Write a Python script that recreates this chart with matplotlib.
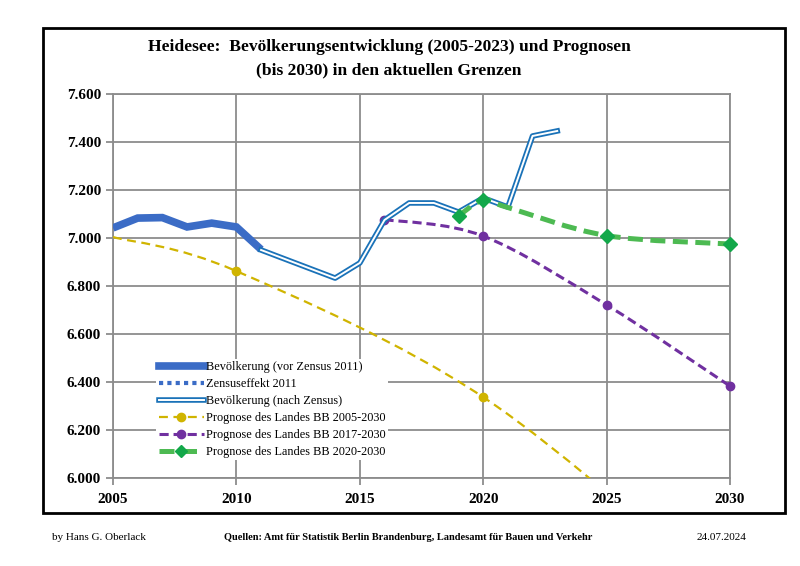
import matplotlib
matplotlib.use("Agg")
import matplotlib.pyplot as plt
import numpy as np
from matplotlib.path import Path
from matplotlib.patches import PathPatch, Rectangle
from matplotlib.lines import Line2D
from matplotlib.legend_handler import HandlerTuple

plt.rcParams['font.family'] = ['Liberation Serif', 'DejaVu Serif']

# population before census 2011
years_pre = [2005, 2006, 2007, 2008, 2009, 2010, 2011]
pop_pre = [7042, 7083, 7085, 7046, 7062, 7046, 6952]

# population after census
years_post = [2011, 2012, 2013, 2014, 2015, 2016, 2017, 2018, 2019, 2020, 2021, 2022, 2023]
pop_post = [6950, 6911, 6872, 6833, 6896, 7075, 7146, 7146, 7108, 7167, 7129, 7425, 7446]

# forecasts
years_p05 = [2005, 2010, 2020, 2030]
pop_p05 = [7004, 6862, 6337, 5500]
years_p17 = [2016, 2020, 2025, 2030]
pop_p17 = [7077, 7008, 6721, 6383]
years_p20 = [2019, 2020, 2021, 2025, 2030]
pop_p20 = [7092, 7158, 7127, 7010, 6975]

x_ticks = [2005, 2010, 2015, 2020, 2025, 2030]
y_ticks = [6000, 6200, 6400, 6600, 6800, 7000, 7200, 7400, 7600]
y_labels = ['6.000', '6.200', '6.400', '6.600', '6.800', '7.000', '7.200', '7.400', '7.600']


def smooth_path(xs, ys):
    # excel-like smoothed line (catmull-rom as bezier)
    pts = np.column_stack((xs, ys)).astype(float)
    verts = [pts[0]]
    codes = [Path.MOVETO]
    n = len(pts)
    for i in range(n - 1):
        p0 = pts[i - 1] if i > 0 else pts[i]
        p1 = pts[i]
        p2 = pts[i + 1]
        p3 = pts[i + 2] if i + 2 < n else pts[i + 1]
        c1 = p1 + (p2 - p0) / 6.0
        c2 = p2 - (p3 - p1) / 6.0
        verts += [c1, c2, p2]
        codes += [Path.CURVE4] * 3
    return Path(verts, codes)


fig = plt.figure(figsize=(8, 5.66), dpi=100)
fig.patches.append(Rectangle((43 / 800, 1 - 513 / 566), 742 / 800, 485 / 566,
                             transform=fig.transFigure, fill=False,
                             edgecolor='black', linewidth=2, zorder=0))

ax = fig.add_axes([113 / 800, 1 - 478 / 566, 617 / 800, 384 / 566])
ax.set_xlim(2005, 2030)
ax.set_ylim(6000, 7600)
ax.set_xticks(x_ticks)
ax.set_yticks(y_ticks)
ax.set_yticklabels(y_labels)
ax.grid(True, color='#8c8c8c', linewidth=1.3)
ax.set_axisbelow(True)
for s in ax.spines.values():
    s.set_color('#8c8c8c')
    s.set_linewidth(1.3)
ax.tick_params(colors='#8c8c8c', length=5, width=1.3, labelcolor='black')
for lab in ax.get_xticklabels() + ax.get_yticklabels():
    lab.set_fontweight('bold')
    lab.set_fontsize(11)
ax.tick_params(axis='x', pad=6)

c_yel = '#d0b400'
c_pur = '#7030a0'
c_grn = '#4dba52'
c_grn_m = '#13a84a'

ax.add_patch(PathPatch(smooth_path(years_p05, pop_p05), fill=False, edgecolor=c_yel,
                       linewidth=1.6, linestyle=(0, (4, 2.5)), zorder=3))
ax.plot(years_p05[1:3], pop_p05[1:3], 'o', color=c_yel, markersize=6, zorder=4)

ax.add_patch(PathPatch(smooth_path(years_p17, pop_p17), fill=False, edgecolor=c_pur,
                       linewidth=2.2, linestyle=(0, (3, 1.6)), zorder=3))
ax.plot(years_p17, pop_p17, 'o', color=c_pur, markersize=6, zorder=4, clip_on=False)

ax.add_patch(PathPatch(smooth_path(years_p20, pop_p20), fill=False, edgecolor=c_grn,
                       linewidth=3.6, linestyle=(0, (3, 1.5)), zorder=5))
ax.plot([years_p20[i] for i in (0, 1, 3, 4)], [pop_p20[i] for i in (0, 1, 3, 4)], 'D',
        color=c_grn_m, markersize=7, zorder=6, clip_on=False)

ax.plot(years_pre, pop_pre, color='#3b6cc6', linewidth=5.5, solid_joinstyle='miter',
        solid_capstyle='butt', zorder=3)
ax.plot([2011, 2011], [pop_pre[-1], pop_post[0]], ':', color='#3b6cc6', linewidth=3, zorder=3)
ax.plot(years_post, pop_post, color='#1a72b8', linewidth=4, zorder=4)
ax.plot(years_post, pop_post, color='white', linewidth=1.4, zorder=4)

h_pre = Line2D([], [], color='#3b6cc6', linewidth=5.5)
h_zen = Line2D([], [], color='#3b6cc6', linewidth=3, linestyle=(0, (1, 1)))
h_post = (Line2D([], [], color='#1a72b8', linewidth=4), Line2D([], [], color='white', linewidth=1.4))
h_p05 = Line2D([], [], color=c_yel, linewidth=1.6, linestyle=(0, (4, 2.5)), marker='o', markersize=6)
h_p17 = Line2D([], [], color=c_pur, linewidth=2.2, linestyle=(0, (3, 1.6)), marker='o', markersize=6)
h_p20 = Line2D([], [], color=c_grn, linewidth=3.6, linestyle=(0, (3, 1.5)), marker='D',
               markersize=6, markerfacecolor=c_grn_m, markeredgecolor=c_grn_m)
leg = ax.legend([h_pre, h_zen, h_post, h_p05, h_p17, h_p20],
                ['Bevölkerung (vor Zensus 2011)', 'Zensuseffekt 2011', 'Bevölkerung (nach Zensus)',
                 'Prognose des Landes BB 2005-2030', 'Prognose des Landes BB 2017-2030',
                 'Prognose des Landes BB 2020-2030'],
                handler_map={tuple: HandlerTuple(ndivide=1, pad=0)},
                loc='lower left', bbox_to_anchor=(0.06, 0.03), frameon=True, facecolor='white',
                edgecolor='none', framealpha=1, fontsize=8.8, handlelength=3.7, handletextpad=0.15,
                labelspacing=0.4, borderpad=0.2, numpoints=1)

fig.text(389 / 800, 1 - 47 / 566, 'Heidesee:  Bevölkerungsentwicklung (2005-2023) und Prognosen',
         ha='center', va='center', fontsize=12.6, fontweight='bold')
fig.text(389 / 800, 1 - 70 / 566, '(bis 2030) in den aktuellen Grenzen',
         ha='center', va='center', fontsize=12.6, fontweight='bold')

fig.text(52 / 800, 1 - 537 / 566, 'by Hans G. Oberlack', ha='left', va='center', fontsize=8)
fig.text(408 / 800, 1 - 537 / 566,
         'Quellen: Amt für Statistik Berlin Brandenburg, Landesamt für Bauen und Verkehr',
         ha='center', va='center', fontsize=7.5, fontweight='bold')
fig.text(746 / 800, 1 - 537 / 566, '24.07.2024', ha='right', va='center', fontsize=8)

fig.savefig('out.png', dpi=100)
